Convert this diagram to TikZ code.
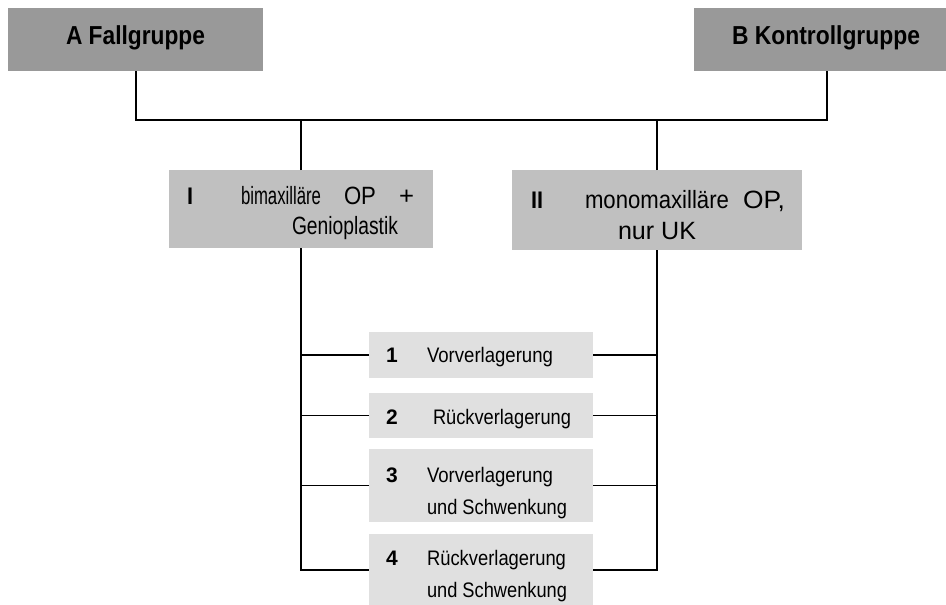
\documentclass[tikz,border=0pt]{standalone}
\usepackage{fontspec}
\usepackage{graphicx}
\setmainfont{Liberation Sans}
\newcommand{\fw}[2]{\resizebox{#1}{\height}{#2}}
\definecolor{dark}{RGB}{153,153,153}
\definecolor{mid}{RGB}{192,192,192}
\definecolor{light}{RGB}{224,224,224}
\begin{document}
\begin{tikzpicture}[x=1pt,y=-1pt,
  box/.style={inner sep=0pt, outer sep=0pt, draw=none},
  topbox/.style={box, fill=dark},
  groupbox/.style={box, fill=mid},
  subbox/.style={box, fill=light, minimum width=224pt},
  txt/.style={inner sep=0pt, outer sep=0pt, anchor=base west, font=\fontsize{21}{25}\selectfont},
  gtxt/.style={txt, font=\fontsize{25}{30}\selectfont},
  num/.style={txt, font=\bfseries\fontsize{21}{25}\selectfont},
  gnum/.style={txt, font=\bfseries\fontsize{24}{28}\selectfont},
  ttl/.style={inner sep=0pt, outer sep=0pt, anchor=base west, font=\bfseries\fontsize{26}{30}\selectfont},
  conn/.style={line width=2pt, black},
  thin/.style={line width=1.9pt, black}]
\useasboundingbox (0,0) rectangle (946,605);
% top boxes
\node[topbox, minimum width=255pt, minimum height=63pt] (A) at (135.5,39.5) {};
\node[topbox, minimum width=252pt, minimum height=63pt] (B) at (820,39.5) {};
\node[ttl] (tA) at (66,44) {\fw{139pt}{A Fallgruppe}};
\node[ttl] (tB) at (732,44) {\fw{188pt}{B Kontrollgruppe}};
% group boxes
\node[groupbox, minimum width=264pt, minimum height=78pt] (I) at (301,209) {};
\node[groupbox, minimum width=290pt, minimum height=80pt] (II) at (657,210) {};
\node[gnum] (tIa) at (187,204) {\fw{6pt}{I}};
\node[gtxt] (tIb) at (241,204) {\makebox[173pt][s]{\fw{80pt}{bimaxilläre}\hfill\fw{32pt}{OP}\hfill\fw{15pt}{+}}};
\node[gtxt] (tIc) at (292,234) {\fw{106pt}{Genioplastik}};
\node[gnum] (tIIa) at (531,208) {\fw{12pt}{II}};
\node[gtxt] (tIIb) at (585,208) {\makebox[200pt][s]{\fw{144pt}{monomaxilläre}\hfill\fw{42pt}{OP,}}};
\node[gtxt] (tIIc) at (618,239) {\fw{78pt}{nur UK}};
% sub boxes
\node[subbox, minimum height=46pt] (n1) at (481,355) {};
\node[subbox, minimum height=45pt] (n2) at (481,415.5) {};
\node[subbox, minimum height=73pt] (n3) at (481,485.5) {};
\node[subbox, minimum height=71pt] (n4) at (481,569.5) {};
\node[num] (k1) at (386,362) {1};
\node[txt] (s1) at (427,362) {\fw{126pt}{Vorverlagerung}};
\node[num] (k2) at (386,424) {2};
\node[txt] (s2) at (433,424) {\fw{138pt}{Rückverlagerung}};
\node[num] (k3) at (386,482) {3};
\node[txt] (s3a) at (427,482) {\fw{126pt}{Vorverlagerung}};
\node[txt] (s3b) at (427,514) {\fw{140pt}{und Schwenkung}};
\node[num] (k4) at (386,565) {4};
\node[txt] (s4a) at (427,565) {\fw{139pt}{Rückverlagerung}};
\node[txt] (s4b) at (427,597) {\fw{140pt}{und Schwenkung}};
% connectors
\coordinate (jA) at (136,120);
\coordinate (jB) at (827,120);
\draw[conn] (A.south -| jA) -- (jA) -- (jB) -- (B.south -| jB);
\draw[conn] (I.north) -- (I.north |- jA);
\draw[conn] (II.north) -- (II.north |- jA);
\draw[conn] (I.south) -- (I.south |- n4.west) -- (n4.west);
\draw[conn] (II.south) -- (II.south |- n4.east) -- (n4.east);
\foreach \n in {n1,n2,n3}{
  \draw[thin] (\n.west) -- (\n.west -| I.south);
  \draw[thin] (\n.east) -- (\n.east -| II.south);
}
\end{tikzpicture}
\end{document}
